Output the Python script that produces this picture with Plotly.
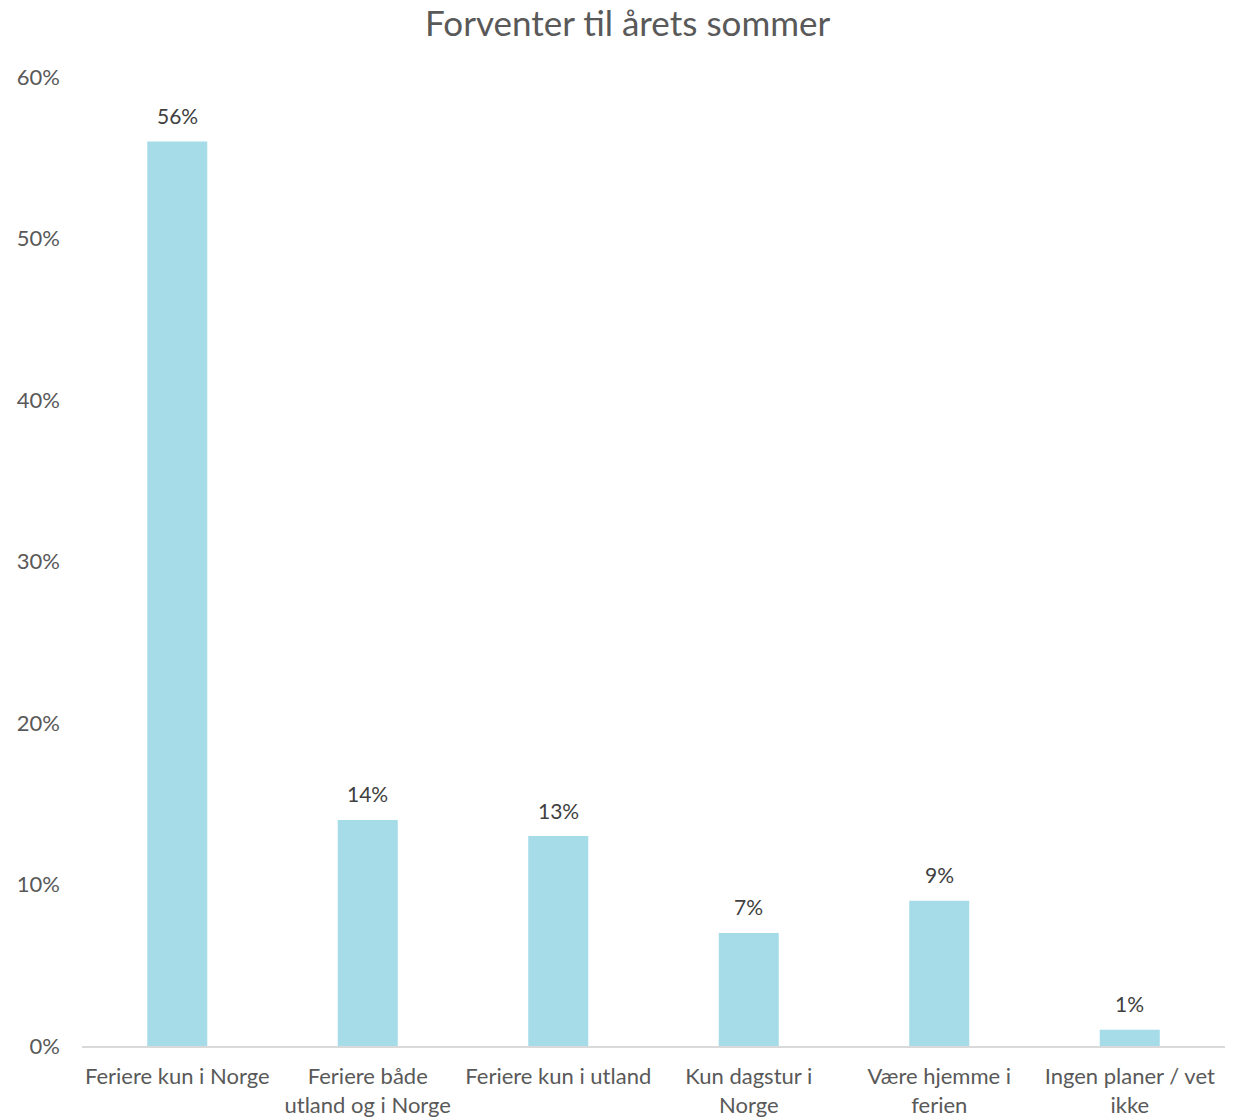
import plotly.graph_objects as go

categories = ["Feriere kun i Norge", "Feriere både<br>utland og i Norge", "Feriere kun i utland",
              "Kun dagstur i<br>Norge", "Være hjemme i<br>ferien", "Ingen planer / vet<br>ikke"]
values = [0.56, 0.14, 0.13, 0.07, 0.09, 0.01]
labels = ["56%", "14%", "13%", "7%", "9%", "1%"]
tick_vals = [0, 0.1, 0.2, 0.3, 0.4, 0.5, 0.6]
tick_text = ["0%", "10%", "20%", "30%", "40%", "50%", "60%"]

FONT = "Lato"
fig = go.Figure(go.Bar(
    x=categories, y=values,
    marker=dict(color="#A5DCE8", line=dict(width=0)),
    cliponaxis=False,
))
for c, v, t in zip(categories, values, labels):
    fig.add_annotation(x=c, y=v, text=t, showarrow=False, yanchor="middle", yshift=26,
                       font=dict(size=21, color="#404040", family=FONT))
fig.update_layout(
    width=1227, height=1110,
    paper_bgcolor="white", plot_bgcolor="white",
    margin=dict(l=74, r=10, t=69, b=72),
    bargap=0.685,
    title=dict(text="Forventer til årets sommer", x=0.505, xanchor="center",
               y=1 - 16 / 1110, yanchor="middle",
               font=dict(size=35, color="#595959", family=FONT)),
    font=dict(family=FONT, size=22, color="#595959"),
    showlegend=False,
)
fig.update_yaxes(range=[0, 0.6], tickvals=tick_vals, ticktext=tick_text, showgrid=False,
                 zeroline=False, showline=False, ticks="", ticklabelstandoff=21, automargin=False,
                 tickfont=dict(size=22, color="#595959", family=FONT))
fig.update_xaxes(showline=True, linecolor="#D9D9D9", linewidth=1.5, ticks="", ticklabelstandoff=10,
                 automargin=False,
                 tickfont=dict(size=22, color="#595959", family=FONT))
fig.write_html("out.html")
